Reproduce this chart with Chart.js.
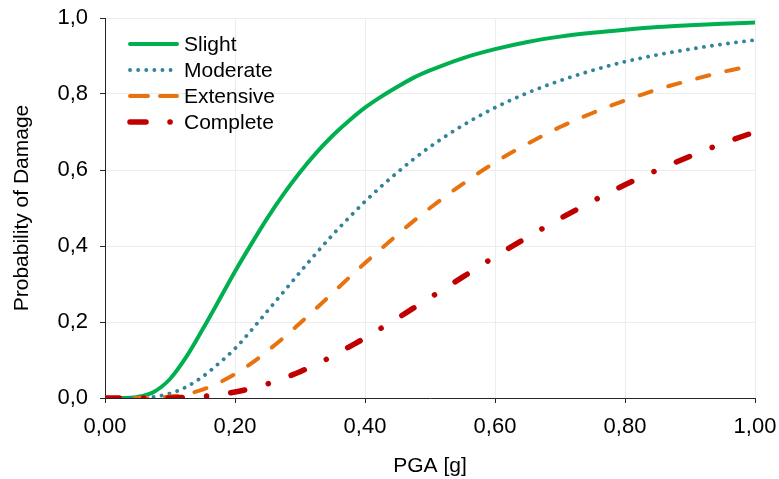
<!DOCTYPE html>
<html>
<head>
<meta charset="utf-8">
<script src="https://cdn.jsdelivr.net/npm/chart.js@4.4.1/dist/chart.umd.min.js"></script>
<style>
html, body { margin: 0; padding: 0; background: #fff; }
</style>
</head>
<body>
<canvas id="fragilityChart" width="779" height="479"></canvas>
<script>
// PGA [g] 값 (x축)
var pga = [0.000, 0.025, 0.050, 0.075, 0.100, 0.125, 0.150, 0.175, 0.200, 0.225,
	0.250, 0.275, 0.300, 0.325, 0.350, 0.375, 0.400, 0.425, 0.450, 0.475,
	0.50, 0.55, 0.60, 0.65, 0.70, 0.75, 0.80, 0.85, 0.90, 0.95, 1.00];

// 손상 단계별 확률
var slight = [0, 0, 0.003, 0.016, 0.05, 0.108, 0.18, 0.256, 0.333, 0.405,
	0.474, 0.537, 0.594, 0.645, 0.69, 0.729, 0.764, 0.793, 0.819, 0.843,
	0.862, 0.894, 0.918, 0.937, 0.951, 0.961, 0.969, 0.976, 0.981, 0.985, 0.988];
var moderate = [0, 0, 0, 0.003, 0.012, 0.029, 0.056, 0.091, 0.13, 0.178,
	0.229, 0.28, 0.331, 0.381, 0.429, 0.474, 0.517, 0.557, 0.594, 0.629,
	0.661, 0.717, 0.764, 0.803, 0.835, 0.862, 0.885, 0.903, 0.918, 0.931, 0.942];
var extensive = [0, 0, 0, 0.001, 0.004, 0.01, 0.022, 0.04, 0.063, 0.091,
	0.124, 0.159, 0.197, 0.236, 0.276, 0.316, 0.355, 0.393, 0.43, 0.466,
	0.50, 0.563, 0.62, 0.669, 0.713, 0.75, 0.783, 0.812, 0.836, 0.858, 0.876];
var complete = [0, 0, 0, 0, 0, 0.002, 0.004, 0.009, 0.016, 0.025,
	0.037, 0.052, 0.069, 0.089, 0.11, 0.134, 0.158, 0.184, 0.21, 0.237,
	0.264, 0.318, 0.372, 0.423, 0.472, 0.518, 0.561, 0.60, 0.636, 0.67, 0.70];

var seriesLabels = ['Slight', 'Moderate', 'Extensive', 'Complete'];

var fontFamily = "'Liberation Sans', Arial, sans-serif";

function toPoints(values) {
	return pga.map(function(x, i) { return { x: x, y: values[i] }; });
}

// 차트 영역 안쪽 왼쪽 위 범례
var insideLegend = {
	id: 'insideLegend',
	afterDraw: function(chart) {
		var ctx = chart.ctx;
		chart.data.datasets.forEach(function(ds, i) {
			var y = 44 + i * 26;
			ctx.save();
			ctx.strokeStyle = ds.borderColor;
			ctx.lineWidth = ds.borderWidth;
			ctx.lineCap = 'round';
			ctx.setLineDash(ds.legendDash || []);
			ctx.beginPath();
			ctx.moveTo(130, y);
			ctx.lineTo(177, y);
			ctx.stroke();
			ctx.setLineDash([]);
			ctx.fillStyle = '#000';
			ctx.font = '21px ' + fontFamily;
			ctx.textBaseline = 'middle';
			ctx.fillText(ds.label, 184, y + 1);
			ctx.restore();
		});
	}
};

var ctx = document.getElementById('fragilityChart').getContext('2d');
var fragilityChart = new Chart(ctx, {
	type : 'line',
	data : {
		datasets : [ {
			label : seriesLabels[0],
			data : toPoints(slight),
			borderColor : '#00B050',
			borderWidth : 4,
			order : 4
		}, {
			label : seriesLabels[1],
			data : toPoints(moderate),
			borderColor : '#31849B',
			borderWidth : 3.8,
			borderDash : [ 0.1, 8 ],
			legendDash : [ 0.1, 8 ],
			order : 3
		}, {
			label : seriesLabels[2],
			data : toPoints(extensive),
			borderColor : '#E8730E',
			borderWidth : 4,
			borderDash : [ 12.5, 17.5 ],
			legendDash : [ 18, 12 ],
			order : 2
		}, {
			label : seriesLabels[3],
			data : toPoints(complete),
			borderColor : '#C00000',
			borderWidth : 5.5,
			borderDash : [ 14.3, 24.3, 0.1, 24.3 ],
			legendDash : [ 16, 24, 0.1, 30 ],
			order : 1
		} ]
	},
	options : {
		responsive : false,
		animation : false,
		layout : {
			padding : { top : 18, right : 24, left : 0, bottom : 0 }
		},
		elements : {
			point : { radius : 0, hoverRadius : 0 },
			line : {
				cubicInterpolationMode : 'monotone',
				borderCapStyle : 'round',
				borderJoinStyle : 'round',
				fill : false
			}
		},
		plugins : {
			legend : { display : false },
			tooltip : { enabled : false }
		},
		scales : {
			x : {
				type : 'linear',
				min : 0,
				max : 1,
				afterFit : function(scale) {
					scale.height = 81;
					scale.paddingLeft = 0;
					scale.paddingRight = 0;
				},
				ticks : {
					stepSize : 0.2,
					color : '#000',
					padding : 11,
					maxRotation : 0,
					font : { family : fontFamily, size : 22 },
					callback : function(v) { return v.toFixed(2).replace('.', ','); }
				},
				grid : { color : '#ededed', tickColor : '#262626', tickLength : 5 },
				border : { color : '#262626', width : 1 },
				title : {
					display : true,
					text : 'PGA [g]',
					color : '#000',
					font : { family : fontFamily, size : 21 },
					padding : { top : 0, bottom : 0 }
				}
			},
			y : {
				min : 0,
				max : 1,
				afterFit : function(scale) {
					scale.width = 105;
					scale.paddingTop = 0;
					scale.paddingBottom = 0;
				},
				ticks : {
					stepSize : 0.2,
					color : '#000',
					padding : 12,
					font : { family : fontFamily, size : 22 },
					callback : function(v) { return v.toFixed(1).replace('.', ','); }
				},
				grid : { color : '#ededed', tickColor : '#262626', tickLength : 5 },
				border : { color : '#262626', width : 1 },
				title : {
					display : true,
					text : 'Probability of Damage',
					color : '#000',
					font : { family : fontFamily, size : 21 },
					padding : { top : 10, bottom : 0 }
				}
			}
		}
	},
	plugins : [ insideLegend ]
});
</script>
</body>
</html>
